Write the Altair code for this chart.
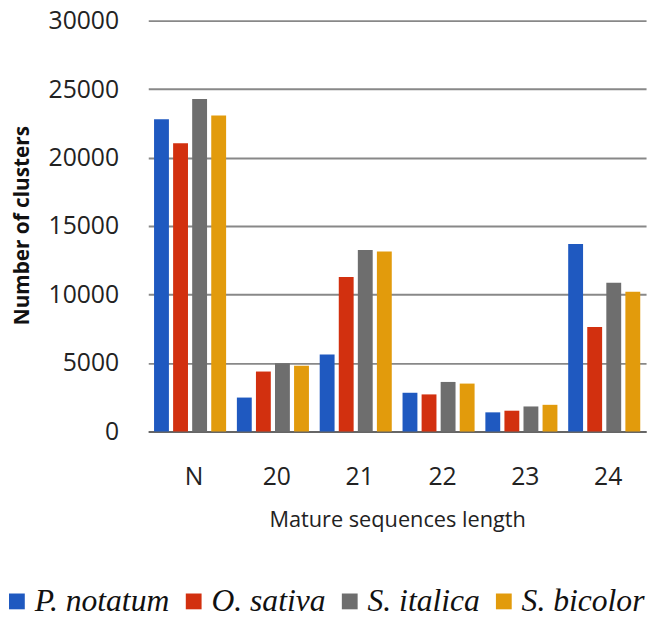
import altair as alt
import pandas as pd

categories = ["N", "20", "21", "22", "23", "24"]
species = ["P. notatum", "O. sativa", "S. italica", "S. bicolor"]
p_notatum = [22800, 2480, 5620, 2830, 1400, 13700]
o_sativa = [21050, 4380, 11290, 2710, 1520, 7640]
s_italica = [24270, 4980, 13260, 3620, 1830, 10860]
s_bicolor = [23080, 4810, 13140, 3500, 1950, 10210]
colors = ["#1f59c0", "#d2300f", "#6e6e6e", "#e29b0c"]

rows = []
for sp, vals in zip(species, [p_notatum, o_sativa, s_italica, s_bicolor]):
    for c, v in zip(categories, vals):
        rows.append({"length": c, "species": sp, "clusters": v})
df = pd.DataFrame(rows)

chart = alt.Chart(df).mark_bar().encode(
    x=alt.X("length:N", sort=categories,
            scale=alt.Scale(paddingInner=0.13, paddingOuter=0.07),
            axis=alt.Axis(title="Mature sequences length", labelAngle=0,
                          labelFont="Open Sans", labelFontSize=25, labelColor="#222",
                          labelPadding=34, labelOffset=4, ticks=False,
                          domainColor="#666", domainWidth=2,
                          titleFont="Open Sans", titleFontSize=22, titleFontWeight="normal",
                          titleColor="#222", titlePadding=20)),
    xOffset=alt.XOffset("species:N", sort=species, scale=alt.Scale(paddingInner=0.22)),
    y=alt.Y("clusters:Q", scale=alt.Scale(domain=[0, 30000]),
            axis=alt.Axis(title="Number of clusters", values=[0, 5000, 10000, 15000, 20000, 25000, 30000],
                          format="d", labelFont="Open Sans", labelFontSize=25, labelColor="#222",
                          labelPadding=30, ticks=False, domain=False,
                          gridColor="#888", gridWidth=2,
                          titleFont="Open Sans", titleFontSize=21, titleFontWeight="bold",
                          titleColor="#111", titleX=-117, titleY=207)),
    color=alt.Color("species:N", sort=species,
                    scale=alt.Scale(domain=species, range=colors),
                    legend=alt.Legend(title=None, orient="none", direction="horizontal",
                                      legendX=-149, legendY=572,
                                      symbolType="square", symbolSize=256, symbolStrokeWidth=0,
                                      labelFont="Liberation Serif", labelFontStyle="italic",
                                      labelFontSize=32, labelColor="#111",
                                      columnPadding=8, labelOffset=2)),
).properties(
    width=504, height=416,
    autosize=alt.AutoSizeParams(type="none"),
    padding={"left": 142, "top": 9, "right": 4, "bottom": 185},
).configure_view(stroke=None)

chart.save("out.html", embed_options={"renderer": "svg", "actions": False})
